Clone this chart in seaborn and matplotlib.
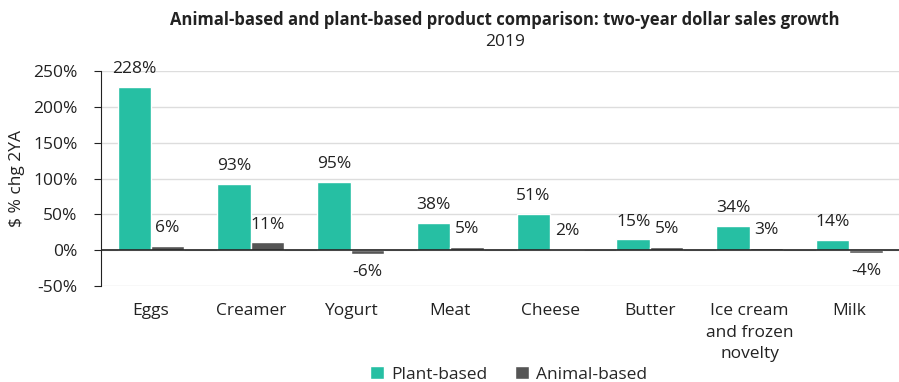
import pandas as pd
import seaborn as sns
import matplotlib.pyplot as plt
from matplotlib.ticker import FuncFormatter

# data
categories = ['Eggs', 'Creamer', 'Yogurt', 'Meat', 'Cheese', 'Butter',
              'Ice cream\nand frozen\nnovelty', 'Milk']
plant_based = [228, 93, 95, 38, 51, 15, 34, 14]
animal_based = [6, 11, -6, 5, 2, 5, 3, -4]

df = pd.DataFrame({
    'Category': categories * 2,
    'Growth': plant_based + animal_based,
    'Type': ['Plant-based'] * len(categories) + ['Animal-based'] * len(categories),
})

sns.set_style('white')
plt.rcParams['font.family'] = ['Open Sans', 'DejaVu Sans']

fig = plt.figure(figsize=(8.99, 3.82), dpi=100)
ax = fig.add_axes([0.1124, 0.2513, 0.888, 0.5628])

palette = {'Plant-based': '#26bfa3', 'Animal-based': '#555555'}
sns.barplot(data=df, x='Category', y='Growth', hue='Type', palette=palette,
            width=0.67, ax=ax, saturation=1)

for cont in ax.containers:
    labels = [f'{v:.0f}%' for v in cont.datavalues]
    ax.bar_label(cont, labels=labels, padding=7, fontsize=12.5, color='#222222')

ax.set_ylim(-50, 250)
ax.set_yticks(range(-50, 251, 50))
ax.yaxis.set_major_formatter(FuncFormatter(lambda v, p: f'{v:.0f}%'))
ax.grid(axis='y', color='#dddddd', linewidth=1)
ax.set_axisbelow(True)
ax.axhline(0, color='#222222', linewidth=1.2)

for s in ['top', 'right', 'bottom']:
    ax.spines[s].set_visible(False)
ax.spines['left'].set_color('#222222')
ax.tick_params(axis='y', left=True, length=5, color='#222222', labelsize=12.5,
               labelcolor='#222222', pad=12)
ax.tick_params(axis='x', bottom=False, labelsize=12.5, labelcolor='#222222', pad=9)
for t in ax.get_xticklabels():
    t.set_linespacing(1.45)
ax.set_xlabel('')
ax.set_ylabel('$ % chg 2YA', fontsize=12.5, color='#222222', labelpad=6)

fig.text(0.562, 0.948, 'Animal-based and plant-based product comparison: two-year dollar sales growth',
         ha='center', va='center', fontsize=12, fontweight='bold', color='#222222')
fig.text(0.562, 0.891, '2019', ha='center', va='center', fontsize=12.5, color='#222222')

ax.legend(loc='lower center', bbox_to_anchor=(0.566, -0.025), bbox_transform=fig.transFigure,
          ncol=2, frameon=False, fontsize=12.5, handlelength=0.8, handleheight=0.8,
          handletextpad=0.4, columnspacing=1.6, borderaxespad=0.1)

fig.savefig('out.png', dpi=100)
